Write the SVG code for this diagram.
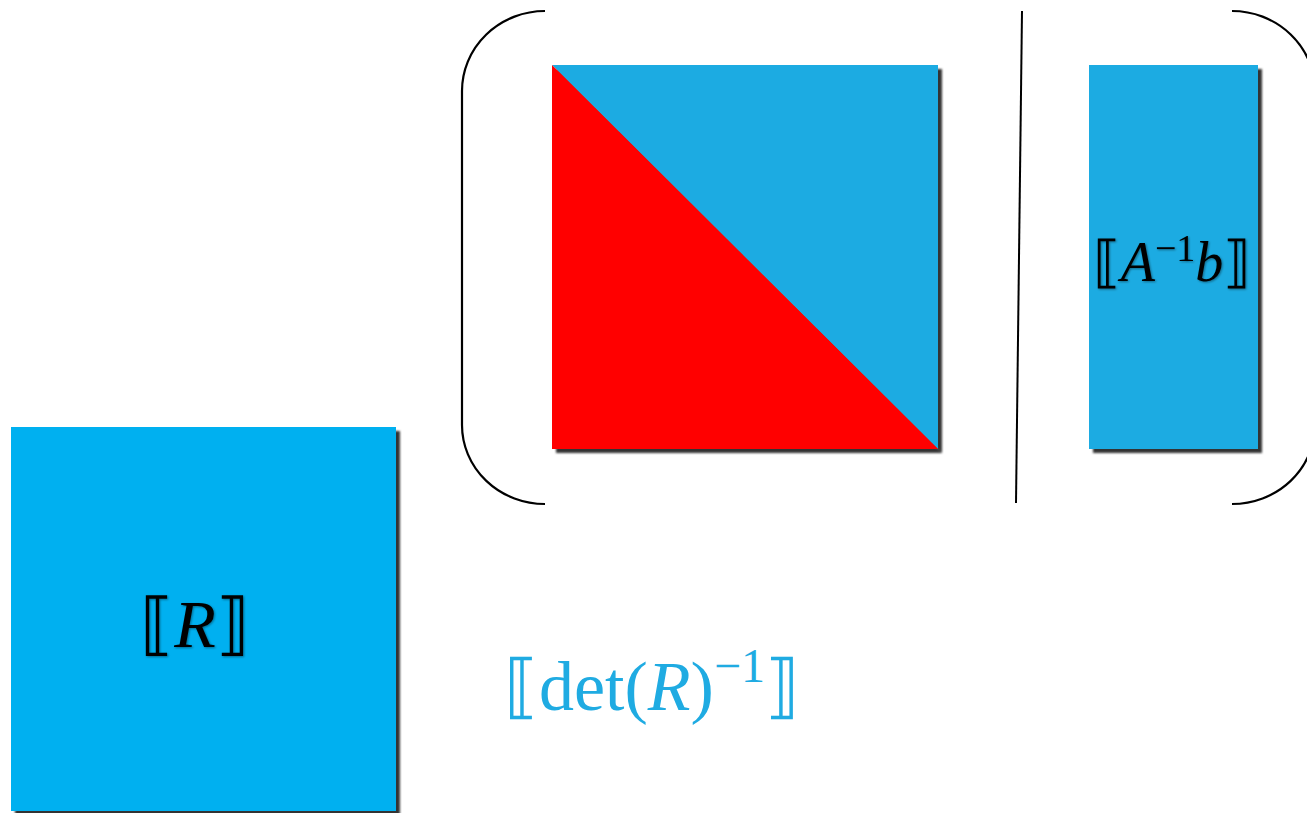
<svg xmlns="http://www.w3.org/2000/svg" width="1307" height="813" viewBox="0 0 1307 813">
<defs>
<filter id="sh" x="-5%" y="-5%" width="115%" height="115%">
<feDropShadow dx="4" dy="4" stdDeviation="1.3" flood-color="#000" flood-opacity="0.8"/>
</filter>
<filter id="tsh" x="-10%" y="-10%" width="130%" height="130%">
<feDropShadow dx="1" dy="1" stdDeviation="1" flood-color="#000" flood-opacity="0.4"/>
</filter>
</defs>
<style>
.br{fill:none;stroke:#000;stroke-width:2.2}
.math{font-family:"Liberation Serif","DejaVu Serif",serif}
.it{font-style:italic}
</style>
<rect width="1307" height="813" fill="#fff"/>
<g id="matrixR">
<rect x="11" y="427" width="385" height="384" fill="#00B0F0" filter="url(#sh)"/>
<text class="math" x="195" y="647" font-size="68" text-anchor="middle" fill="#000" filter="url(#tsh)">⟦<tspan class="it">R</tspan>⟧</text>
</g>
<g id="matrixA" filter="url(#sh)">
<polygon points="552,65 938,65 938,449" fill="#1FABE2"/>
<polygon points="552,65 938,449 552,449" fill="#FF0000"/>
</g>
<g id="vectorB">
<rect x="1089" y="65" width="169" height="384" fill="#1FABE2" filter="url(#sh)"/>
<text class="math" x="1172" y="281" font-size="56" text-anchor="middle" fill="#000" filter="url(#tsh)">⟦<tspan class="it">A</tspan><tspan font-size="38" dy="-20">−1</tspan><tspan class="it" dy="20">b</tspan>⟧</text>
</g>
<g id="brackets">
<path class="br" d="M545,11 A83,80 0 0 0 462,91 L462,425 A83,79 0 0 0 545,504"/>
<path class="br" d="M1232,11 A83,80 0 0 1 1315,91 L1315,425 A83,79 0 0 1 1232,504"/>
<line x1="1022" y1="11" x2="1016" y2="503" stroke="#000" stroke-width="2"/>
</g>
<g id="det">
<text class="math" x="652" y="710" font-size="70" text-anchor="middle" fill="#1FABE2">⟦det(<tspan class="it">R</tspan>)<tspan font-size="48" dy="-28">−1</tspan><tspan dy="28">⟧</tspan></text>
</g>
</svg>
